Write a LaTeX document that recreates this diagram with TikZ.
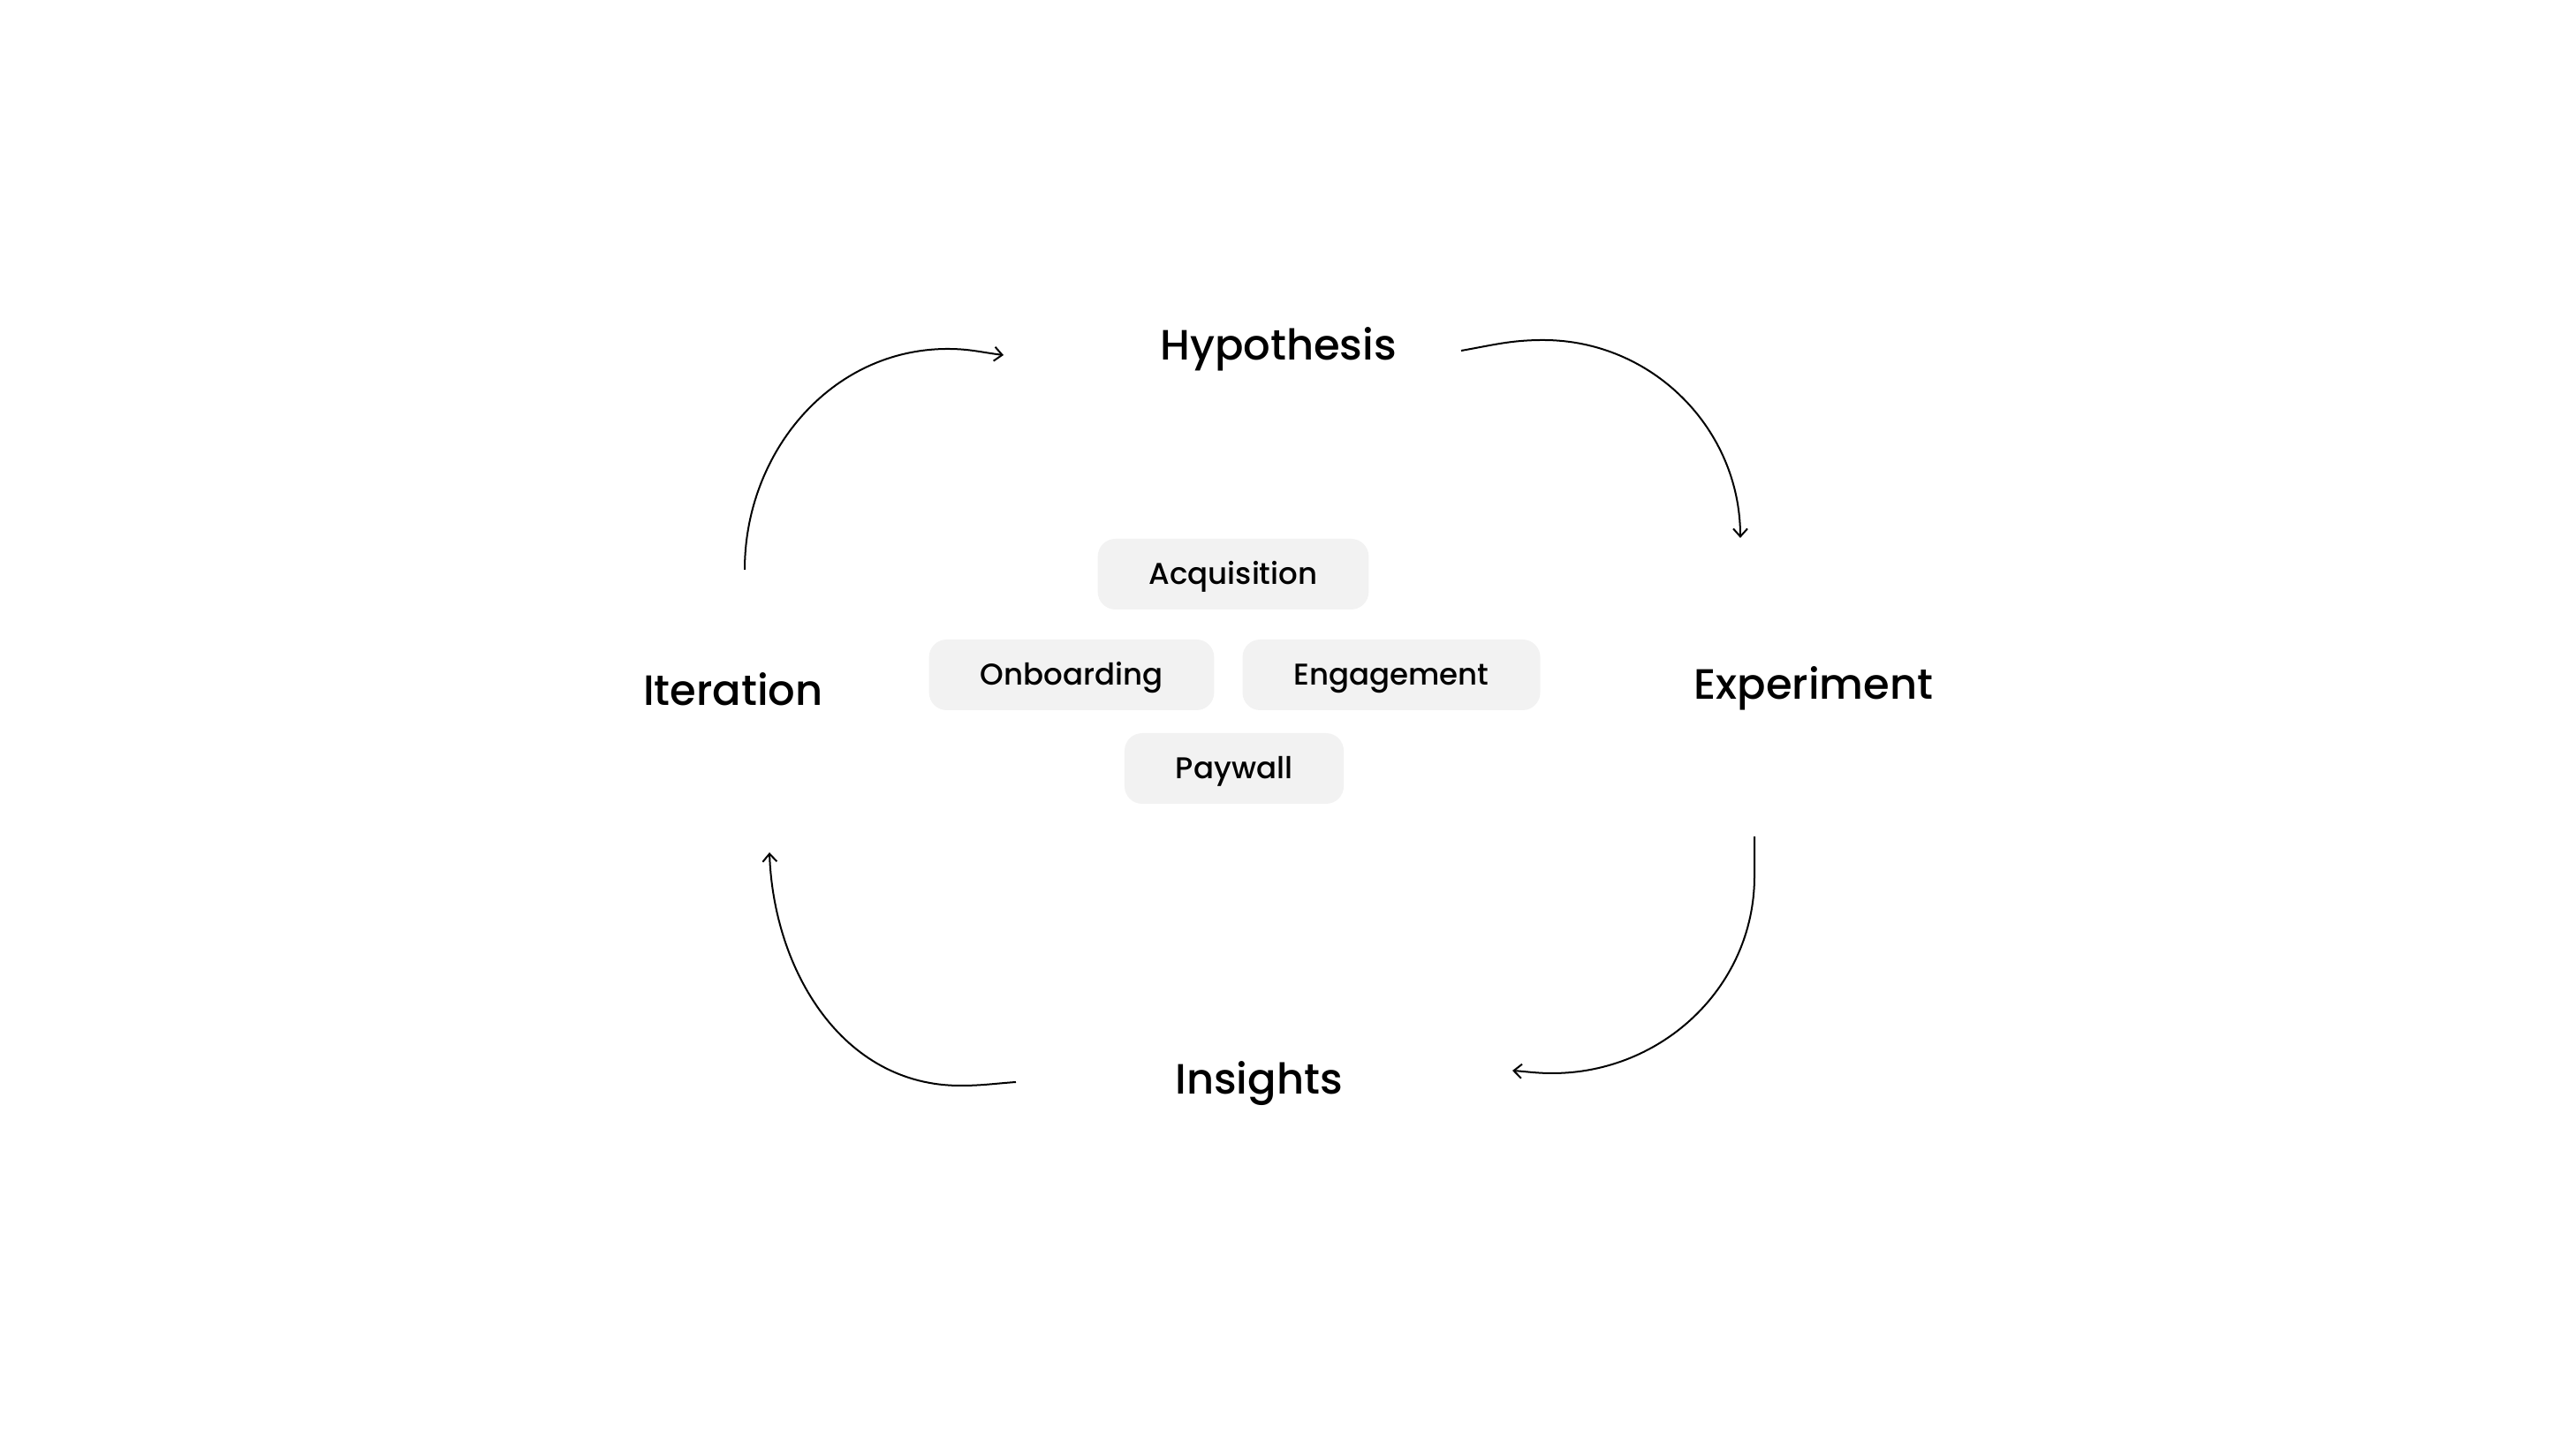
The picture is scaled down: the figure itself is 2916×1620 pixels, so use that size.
\documentclass[tikz,border=0pt]{standalone}
\usepackage{fontspec}
\setmainfont{Poppins}[UprightFont={* Medium}]
\usetikzlibrary{arrows.meta}
\definecolor{boxgray}{RGB}{242,242,242}

\begin{document}
\begin{tikzpicture}
                [x=0.5pt, y=0.5pt,
                lsty/.style={font=\fontsize{24}{28}\selectfont, anchor=base, inner sep=0pt},
                bsty/.style={fill=boxgray, rounded corners=10pt, minimum height=40pt, inner xsep=29pt, inner ysep=0pt, text height=12pt, text depth=0pt, font=\fontsize{17}{20}\selectfont},
                asty/.style={-{Straight Barb[length=4.5pt, width=8pt]}, line width=1pt}]
                \useasboundingbox (0,0) rectangle (2916,1620);
                % stages of the cycle
                \node[lsty] (hyp) at (1447,1212) {Hypothesis};
                \node[lsty] (exp) at (2053,828) {Experiment};
                \node[lsty] (ins) at (1425,381) {Insights};
                \node[lsty] (itr) at (830,821) {Iteration};
                % focus areas
                \node[bsty] (acq) at (1396,970) {Acquisition};
                \node[bsty] (onb) at (1213,856) {Onboarding};
                \node[bsty] (eng) at (1575,856) {Engagement};
                \node[bsty] (pay) at (1397,750) {Paywall};
                % ends of the arcs
                \coordinate (a1s) at (843,975);
                \coordinate (a1m) at (1073,1225);
                \coordinate (a1e) at (1136,1218);
                \coordinate (a2s) at (1654,1223);
                \coordinate (a2m) at (1747,1235);
                \coordinate (a2e) at (1970,1011);
                \coordinate (a3s) at (1986,673);
                \coordinate (a3n) at (1986,628);
                \coordinate (a3m) at (1757,405);
                \coordinate (a3e) at (1712,408);
                \coordinate (a4s) at (1150,395);
                \coordinate (a4m) at (1087,391);
                \coordinate (a4e) at (871,655);
                % cycle arrows
                \draw[asty] (a1s) to[out=90, in=180] (a1m) to[out=0, in=173] (a1e);
                \draw[asty] (a2s) to[out=10, in=180] (a2m) to[out=0, in=90] (a2e);
                \draw[asty] (a3s) -- (a3n) to[out=-90, in=0] (a3m) to[out=180, in=-4] (a3e);
                \draw[asty] (a4s) to[out=184, in=0] (a4m) to[out=180, in=-88] (a4e);
            \end{tikzpicture}
\end{document}
